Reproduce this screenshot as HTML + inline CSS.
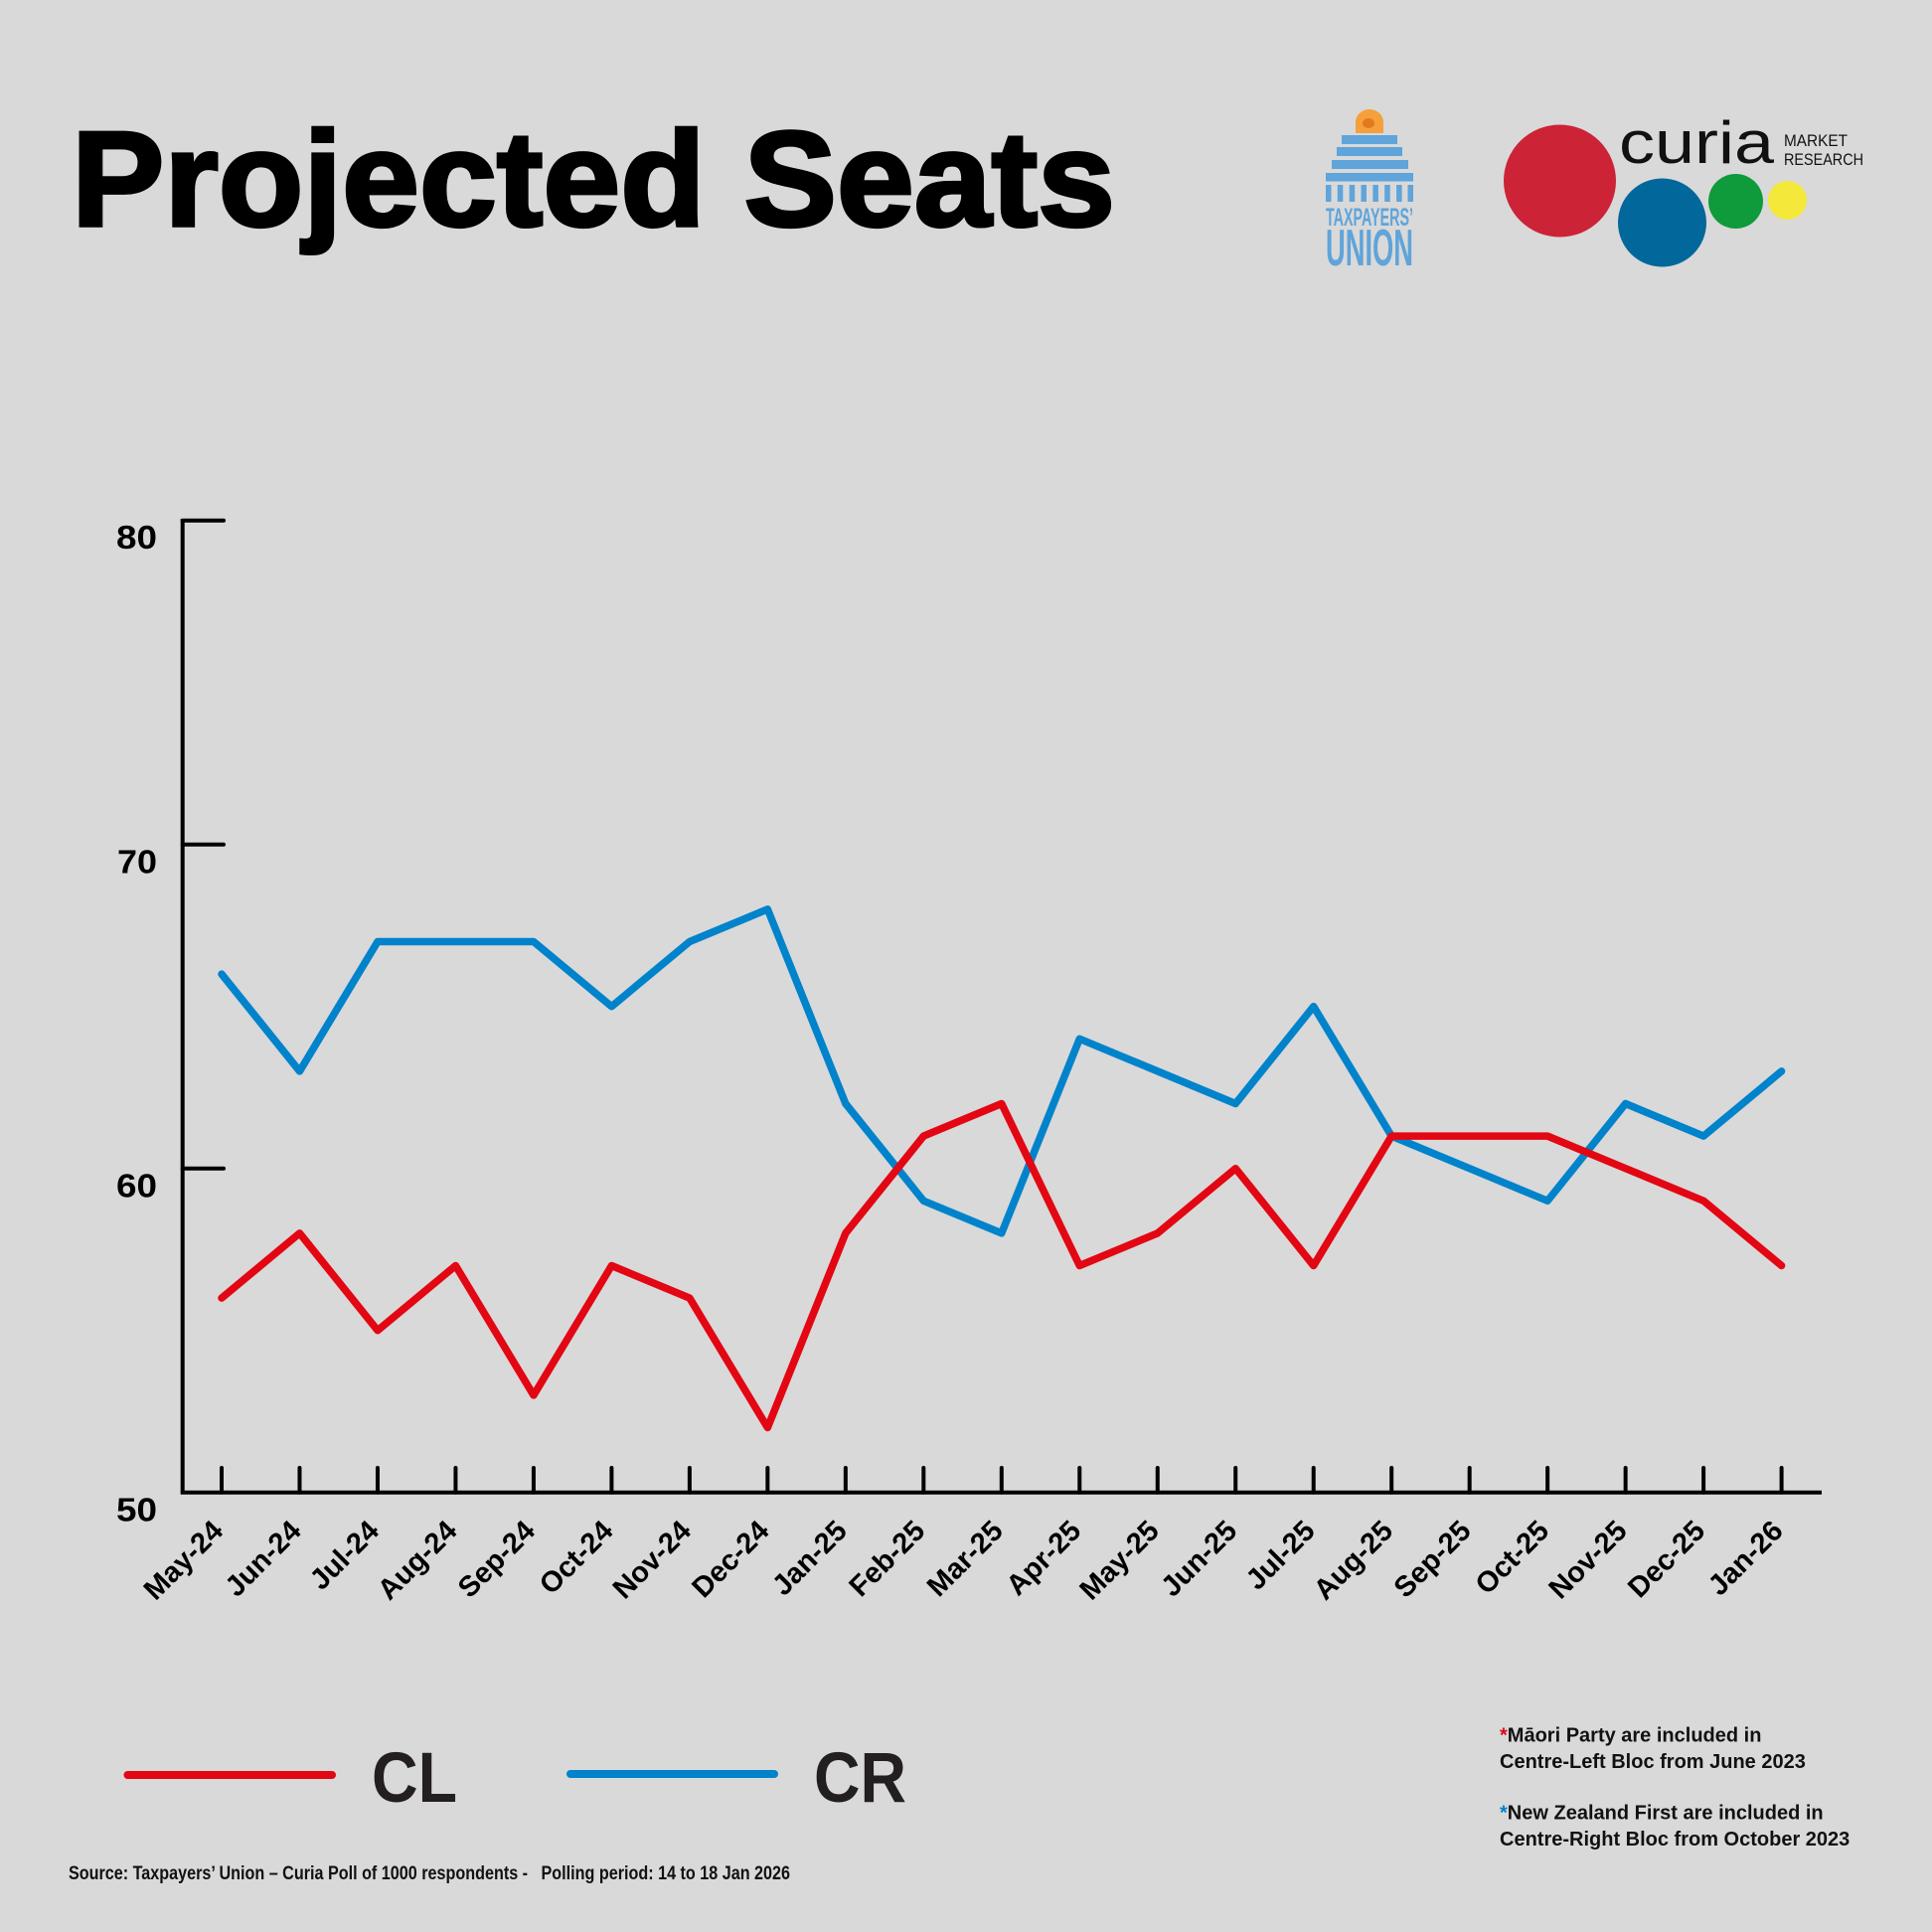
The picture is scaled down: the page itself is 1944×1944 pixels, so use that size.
<!DOCTYPE html>
<html>
<head>
<meta charset="utf-8">
<style>
html,body{margin:0;padding:0;background:#d9d9d9;}
svg{display:block;}
text{font-family:"Liberation Sans",Arial,sans-serif;}
</style>
</head>
<body>
<svg width="1944" height="1944" viewBox="0 0 1944 1944" xmlns="http://www.w3.org/2000/svg">
<rect x="0" y="0" width="1944" height="1944" fill="#d9d9d9"/>

<!-- Title -->
<text x="72" y="227" font-size="136" font-weight="bold" fill="#000" stroke="#000" stroke-width="3.5" textLength="1050" lengthAdjust="spacingAndGlyphs">Projected Seats</text>

<!-- Taxpayers' Union logo -->
<g fill="#5fa4da">
  <path d="M1364,134 L1364,123 A14,13 0 0 1 1392,123 L1392,134 Z" fill="#f5a03a"/>
  <ellipse cx="1377" cy="124" rx="6" ry="5" fill="#e07a1c"/>
  <rect x="1350" y="136" width="56" height="9"/>
  <rect x="1345" y="148" width="66" height="9"/>
  <rect x="1340" y="161" width="77" height="9"/>
  <rect x="1334" y="174" width="88" height="8.5"/>
  <rect x="1334" y="186" width="5.5" height="17"/>
  <rect x="1345.8" y="186" width="5.5" height="17"/>
  <rect x="1357.7" y="186" width="5.5" height="17"/>
  <rect x="1369.5" y="186" width="5.5" height="17"/>
  <rect x="1381.4" y="186" width="5.5" height="17"/>
  <rect x="1393.2" y="186" width="5.5" height="17"/>
  <rect x="1405.1" y="186" width="5.5" height="17"/>
  <rect x="1416.5" y="186" width="5.5" height="17"/>
  <text x="1334" y="227" font-size="25" font-weight="bold" textLength="88" lengthAdjust="spacingAndGlyphs">TAXPAYERS’</text>
  <text x="1334" y="267" font-size="52" font-weight="bold" textLength="88" lengthAdjust="spacingAndGlyphs">UNION</text>
</g>

<!-- Curia logo -->
<circle cx="1569.5" cy="182" r="56.5" fill="#cc2336"/>
<circle cx="1672.5" cy="224" r="44.5" fill="#02679a"/>
<circle cx="1746.5" cy="202.5" r="27.5" fill="#0f9a3b"/>
<circle cx="1798.5" cy="201.5" r="19.5" fill="#f4e83a"/>
<text x="1629" y="164" font-size="60" fill="#111" textLength="156" lengthAdjust="spacingAndGlyphs">curia</text>
<text x="1795" y="147" font-size="16.5" fill="#111" textLength="64" lengthAdjust="spacingAndGlyphs">MARKET</text>
<text x="1795" y="166" font-size="16.5" fill="#111" textLength="80" lengthAdjust="spacingAndGlyphs">RESEARCH</text>

<!-- Axes -->
<g stroke="#000" stroke-width="4" stroke-linecap="round" fill="none">
  <line x1="183.7" y1="522" x2="183.7" y2="1501.7" stroke-linecap="butt"/>
  <line x1="181.7" y1="1501.7" x2="1833" y2="1501.7" stroke-linecap="butt"/>
  <line x1="183.7" y1="523.7" x2="225" y2="523.7"/>
  <line x1="183.7" y1="849.7" x2="225" y2="849.7"/>
  <line x1="183.7" y1="1175.7" x2="225" y2="1175.7"/>
  <line x1="223" y1="1477" x2="223" y2="1501.7"/>
  <line x1="301.48" y1="1477" x2="301.48" y2="1501.7"/>
  <line x1="379.96" y1="1477" x2="379.96" y2="1501.7"/>
  <line x1="458.44" y1="1477" x2="458.44" y2="1501.7"/>
  <line x1="536.92" y1="1477" x2="536.92" y2="1501.7"/>
  <line x1="615.4" y1="1477" x2="615.4" y2="1501.7"/>
  <line x1="693.88" y1="1477" x2="693.88" y2="1501.7"/>
  <line x1="772.36" y1="1477" x2="772.36" y2="1501.7"/>
  <line x1="850.84" y1="1477" x2="850.84" y2="1501.7"/>
  <line x1="929.32" y1="1477" x2="929.32" y2="1501.7"/>
  <line x1="1007.8" y1="1477" x2="1007.8" y2="1501.7"/>
  <line x1="1086.28" y1="1477" x2="1086.28" y2="1501.7"/>
  <line x1="1164.76" y1="1477" x2="1164.76" y2="1501.7"/>
  <line x1="1243.24" y1="1477" x2="1243.24" y2="1501.7"/>
  <line x1="1321.72" y1="1477" x2="1321.72" y2="1501.7"/>
  <line x1="1400.2" y1="1477" x2="1400.2" y2="1501.7"/>
  <line x1="1478.68" y1="1477" x2="1478.68" y2="1501.7"/>
  <line x1="1557.16" y1="1477" x2="1557.16" y2="1501.7"/>
  <line x1="1635.64" y1="1477" x2="1635.64" y2="1501.7"/>
  <line x1="1714.12" y1="1477" x2="1714.12" y2="1501.7"/>
  <line x1="1792.6" y1="1477" x2="1792.6" y2="1501.7"/>
</g>

<!-- Y labels -->
<g font-size="33" font-weight="bold" fill="#000" text-anchor="end">
  <text x="158" y="552" textLength="41" lengthAdjust="spacingAndGlyphs">80</text>
  <text x="158" y="878.5" textLength="40" lengthAdjust="spacingAndGlyphs">70</text>
  <text x="158" y="1204.5" textLength="41" lengthAdjust="spacingAndGlyphs">60</text>
  <text x="158" y="1530.5" textLength="41" lengthAdjust="spacingAndGlyphs">50</text>
</g>

<!-- X labels -->
<g font-size="29" font-weight="bold" fill="#000" text-anchor="end">
  <text transform="translate(226,1542) rotate(-45)">May-24</text>
  <text transform="translate(304.48,1542) rotate(-45)">Jun-24</text>
  <text transform="translate(382.96,1542) rotate(-45)">Jul-24</text>
  <text transform="translate(461.44,1542) rotate(-45)">Aug-24</text>
  <text transform="translate(539.92,1542) rotate(-45)">Sep-24</text>
  <text transform="translate(618.4,1542) rotate(-45)">Oct-24</text>
  <text transform="translate(696.88,1542) rotate(-45)">Nov-24</text>
  <text transform="translate(775.36,1542) rotate(-45)">Dec-24</text>
  <text transform="translate(853.84,1542) rotate(-45)">Jan-25</text>
  <text transform="translate(932.32,1542) rotate(-45)">Feb-25</text>
  <text transform="translate(1010.8,1542) rotate(-45)">Mar-25</text>
  <text transform="translate(1089.28,1542) rotate(-45)">Apr-25</text>
  <text transform="translate(1167.76,1542) rotate(-45)">May-25</text>
  <text transform="translate(1246.24,1542) rotate(-45)">Jun-25</text>
  <text transform="translate(1324.72,1542) rotate(-45)">Jul-25</text>
  <text transform="translate(1403.2,1542) rotate(-45)">Aug-25</text>
  <text transform="translate(1481.68,1542) rotate(-45)">Sep-25</text>
  <text transform="translate(1560.16,1542) rotate(-45)">Oct-25</text>
  <text transform="translate(1638.64,1542) rotate(-45)">Nov-25</text>
  <text transform="translate(1717.12,1542) rotate(-45)">Dec-25</text>
  <text transform="translate(1795.6,1542) rotate(-45)">Jan-26</text>
</g>

<!-- Series -->
<polyline fill="none" stroke="#0083cb" stroke-width="7.5" stroke-linecap="round" stroke-linejoin="round"
 points="223,980.1 301.48,1077.9 379.96,947.5 458.44,947.5 536.92,947.5 615.4,1012.7 693.88,947.5 772.36,914.9 850.84,1110.5 929.32,1208.3 1007.8,1240.9 1086.28,1045.3 1164.76,1077.9 1243.24,1110.5 1321.72,1012.7 1400.2,1143.1 1478.68,1175.7 1557.16,1208.3 1635.64,1110.5 1714.12,1143.1 1792.6,1077.9"/>
<polyline fill="none" stroke="#e30613" stroke-width="7.5" stroke-linecap="round" stroke-linejoin="round"
 points="223,1306.1 301.48,1240.9 379.96,1338.7 458.44,1273.5 536.92,1403.9 615.4,1273.5 693.88,1306.1 772.36,1436.5 850.84,1240.9 929.32,1143.1 1007.8,1110.5 1086.28,1273.5 1164.76,1240.9 1243.24,1175.7 1321.72,1273.5 1400.2,1143.1 1478.68,1143.1 1557.16,1143.1 1635.64,1175.7 1714.12,1208.3 1792.6,1273.5"/>

<!-- Legend -->
<line x1="128.5" y1="1786" x2="334" y2="1786" stroke="#e30613" stroke-width="8" stroke-linecap="round"/>
<line x1="574" y1="1785" x2="779" y2="1785" stroke="#0083cb" stroke-width="8" stroke-linecap="round"/>
<text x="374" y="1813" font-size="71" font-weight="bold" fill="#231f20" textLength="86" lengthAdjust="spacingAndGlyphs">CL</text>
<text x="819" y="1813" font-size="71" font-weight="bold" fill="#231f20" textLength="93" lengthAdjust="spacingAndGlyphs">CR</text>

<!-- Source -->
<text x="69" y="1891" font-size="19" font-weight="bold" fill="#111" textLength="726" lengthAdjust="spacingAndGlyphs" style="white-space:pre">Source: Taxpayers’ Union – Curia Poll of 1000 respondents -   Polling period: 14 to 18 Jan 2026</text>

<!-- Footnotes -->
<g font-size="20" font-weight="bold" fill="#111">
  <text x="1509" y="1752.5"><tspan fill="#e30613">*</tspan>Māori Party are included in</text>
  <text x="1509" y="1779">Centre-Left Bloc from June 2023</text>
  <text x="1509" y="1830.5"><tspan fill="#0083cb">*</tspan>New Zealand First are included in</text>
  <text x="1509" y="1857">Centre-Right Bloc from October 2023</text>
</g>
</svg>
</body>
</html>
